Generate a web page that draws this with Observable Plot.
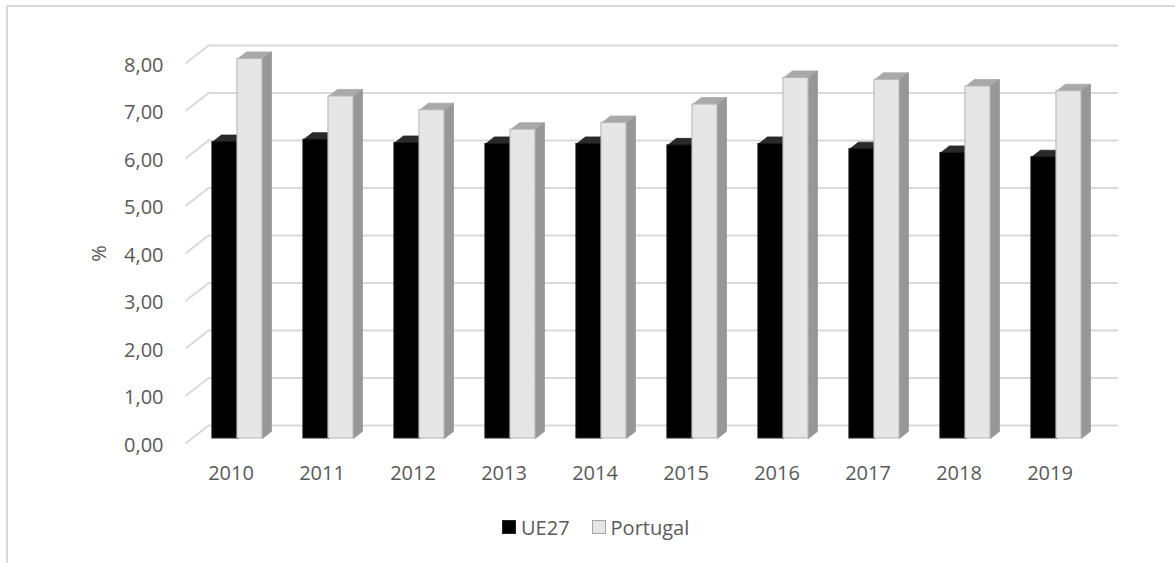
<!DOCTYPE html>
<html>
<head>
<meta charset="utf-8">
<script src="https://cdn.jsdelivr.net/npm/d3@7"></script>
<script src="https://cdn.jsdelivr.net/npm/@observablehq/plot@0.6"></script>
<style>
  body { margin: 0; background: #fff; font-family: "Open Sans", sans-serif; }
  #wrap { position: relative; width: 1175px; height: 563px; overflow: hidden; background: #fff; }
  #frame { position: absolute; left: 6px; top: 5px; width: 1300px; height: 700px;
           border-left: 2px solid #d9d9d9; border-top: 2px solid #d9d9d9; }
  #chart { position: absolute; left: 0; top: 0; }
  #legend { position: absolute; left: 502px; top: 512px; height: 30px; display: flex; align-items: center;
            font-family: "Open Sans", sans-serif; font-size: 20px; color: #595959; }
  .sw { width: 14px; height: 14px; box-sizing: border-box; margin-right: 5px; }
  .item { display: flex; align-items: center; }
</style>
</head>
<body>
<div id="wrap">
  <div id="frame"></div>
  <div id="chart"></div>
  <div id="legend"></div>
</div>
<script>
// ---- data ----
const years = ["2010", "2011", "2012", "2013", "2014", "2015", "2016", "2017", "2018", "2019"];
const ue27 = [6.24, 6.29, 6.22, 6.20, 6.20, 6.17, 6.20, 6.09, 6.01, 5.92];
const portugal = [7.99, 7.20, 6.91, 6.50, 6.64, 7.03, 7.59, 7.55, 7.41, 7.31];
const seriesNames = ["UE27", "Portugal"];
const yTicks = [0, 1, 2, 3, 4, 5, 6, 7, 8];
const yTickLabels = ["0,00", "1,00", "2,00", "3,00", "4,00", "5,00", "6,00", "7,00", "8,00"];
const yTitle = "%";

// ---- 3D projection parameters (in scale units) ----
const DX = 0.253, DY = 0.379;   // depth of the back wall
const A = 0.28, B = 0.67;        // bar depth (front/back fractions)
const W = 0.275;                 // bar width in category units

const styles = [
  {front: "#000000", frontStroke: "#1a1a1a", top: "#2a2a2a", side: "#151515"},
  {front: "#e6e6e6", frontStroke: "#b4b4b4", top: "#a9a9a9", side: "#979797"}
];

const seriesValues = [ue27, portugal];
const bars = seriesValues.map((vals, s) => years.map((yr, i) => {
  const xl = i + 0.5 - W + s * W;
  return {s, i, year: yr, v: vals[i], xl, xr: xl + W, name: seriesNames[s]};
}));

function topPoly(b) {
  return [
    [b.xl + A * DX, b.v + A * DY], [b.xr + A * DX, b.v + A * DY],
    [b.xr + B * DX, b.v + B * DY], [b.xl + B * DX, b.v + B * DY],
    [b.xl + A * DX, b.v + A * DY]
  ].map(([x, y]) => ({id: b.s + "-" + b.i, x, y}));
}
function sidePoly(b) {
  return [
    [b.xr + A * DX, A * DY], [b.xr + B * DX, B * DY],
    [b.xr + B * DX, b.v + B * DY], [b.xr + A * DX, b.v + A * DY],
    [b.xr + A * DX, A * DY]
  ].map(([x, y]) => ({id: b.s + "-" + b.i, x, y}));
}

const gridColor = "#d9d9d9";
const marks = [
  // back wall gridlines
  Plot.ruleY(yTicks, {y: d => d + DY, x1: () => DX, x2: () => 10 + DX, stroke: gridColor, strokeWidth: 2}),
  // side diagonals
  Plot.link(yTicks, {x1: () => 0, y1: d => d, x2: () => DX, y2: d => d + DY, stroke: gridColor, strokeWidth: 2})
];
bars.forEach((sb, s) => {
  const st = styles[s];
  marks.push(
    Plot.line(sb.flatMap(topPoly), {x: "x", y: "y", z: "id", fill: st.top, stroke: st.top, strokeWidth: 0.8}),
    Plot.line(sb.flatMap(sidePoly), {x: "x", y: "y", z: "id", fill: st.side, stroke: st.side, strokeWidth: 0.8}),
    Plot.rect(sb, {x1: d => d.xl + A * DX, x2: d => d.xr + A * DX, y1: () => A * DY, y2: d => d.v + A * DY,
                   fill: st.front, stroke: st.frontStroke, strokeWidth: 1})
  );
});
marks.push(
  Plot.text(yTicks, {x: () => 0, y: d => d, text: (d, i) => yTickLabels[i], textAnchor: "end", dx: -22, dy: 2,
                     fill: "#595959", fontSize: 20}),
  Plot.text(years, {x: (d, i) => i + 0.5, y: () => 0, text: d => d, dy: 30, fill: "#595959", fontSize: 20}),
  Plot.text([yTitle], {x: () => 0, y: () => 4, text: d => d, dx: -86, rotate: -90, fill: "#595959", fontSize: 20})
);

const chart = Plot.plot({
  width: 1175, height: 495,
  marginLeft: 185, marginRight: 80, marginTop: 63, marginBottom: 52,
  x: {type: "linear", domain: [0, 10], axis: null},
  y: {type: "linear", domain: [0, 8], axis: null},
  style: {fontFamily: "'Open Sans', sans-serif", fontSize: "20px", color: "#595959", background: "transparent", overflow: "visible"},
  marks
});
document.getElementById("chart").appendChild(chart);

// legend
const legend = document.getElementById("legend");
seriesNames.forEach((name, s) => {
  const item = document.createElement("div");
  item.className = "item";
  if (s > 0) item.style.marginLeft = "22px";
  const sw = document.createElement("div");
  sw.className = "sw";
  sw.style.background = styles[s].front;
  sw.style.border = "1.5px solid " + (s === 0 ? "#262626" : "#a6a6a6");
  const lab = document.createElement("span");
  lab.textContent = name;
  item.appendChild(sw);
  item.appendChild(lab);
  legend.appendChild(item);
});
</script>
</body>
</html>
